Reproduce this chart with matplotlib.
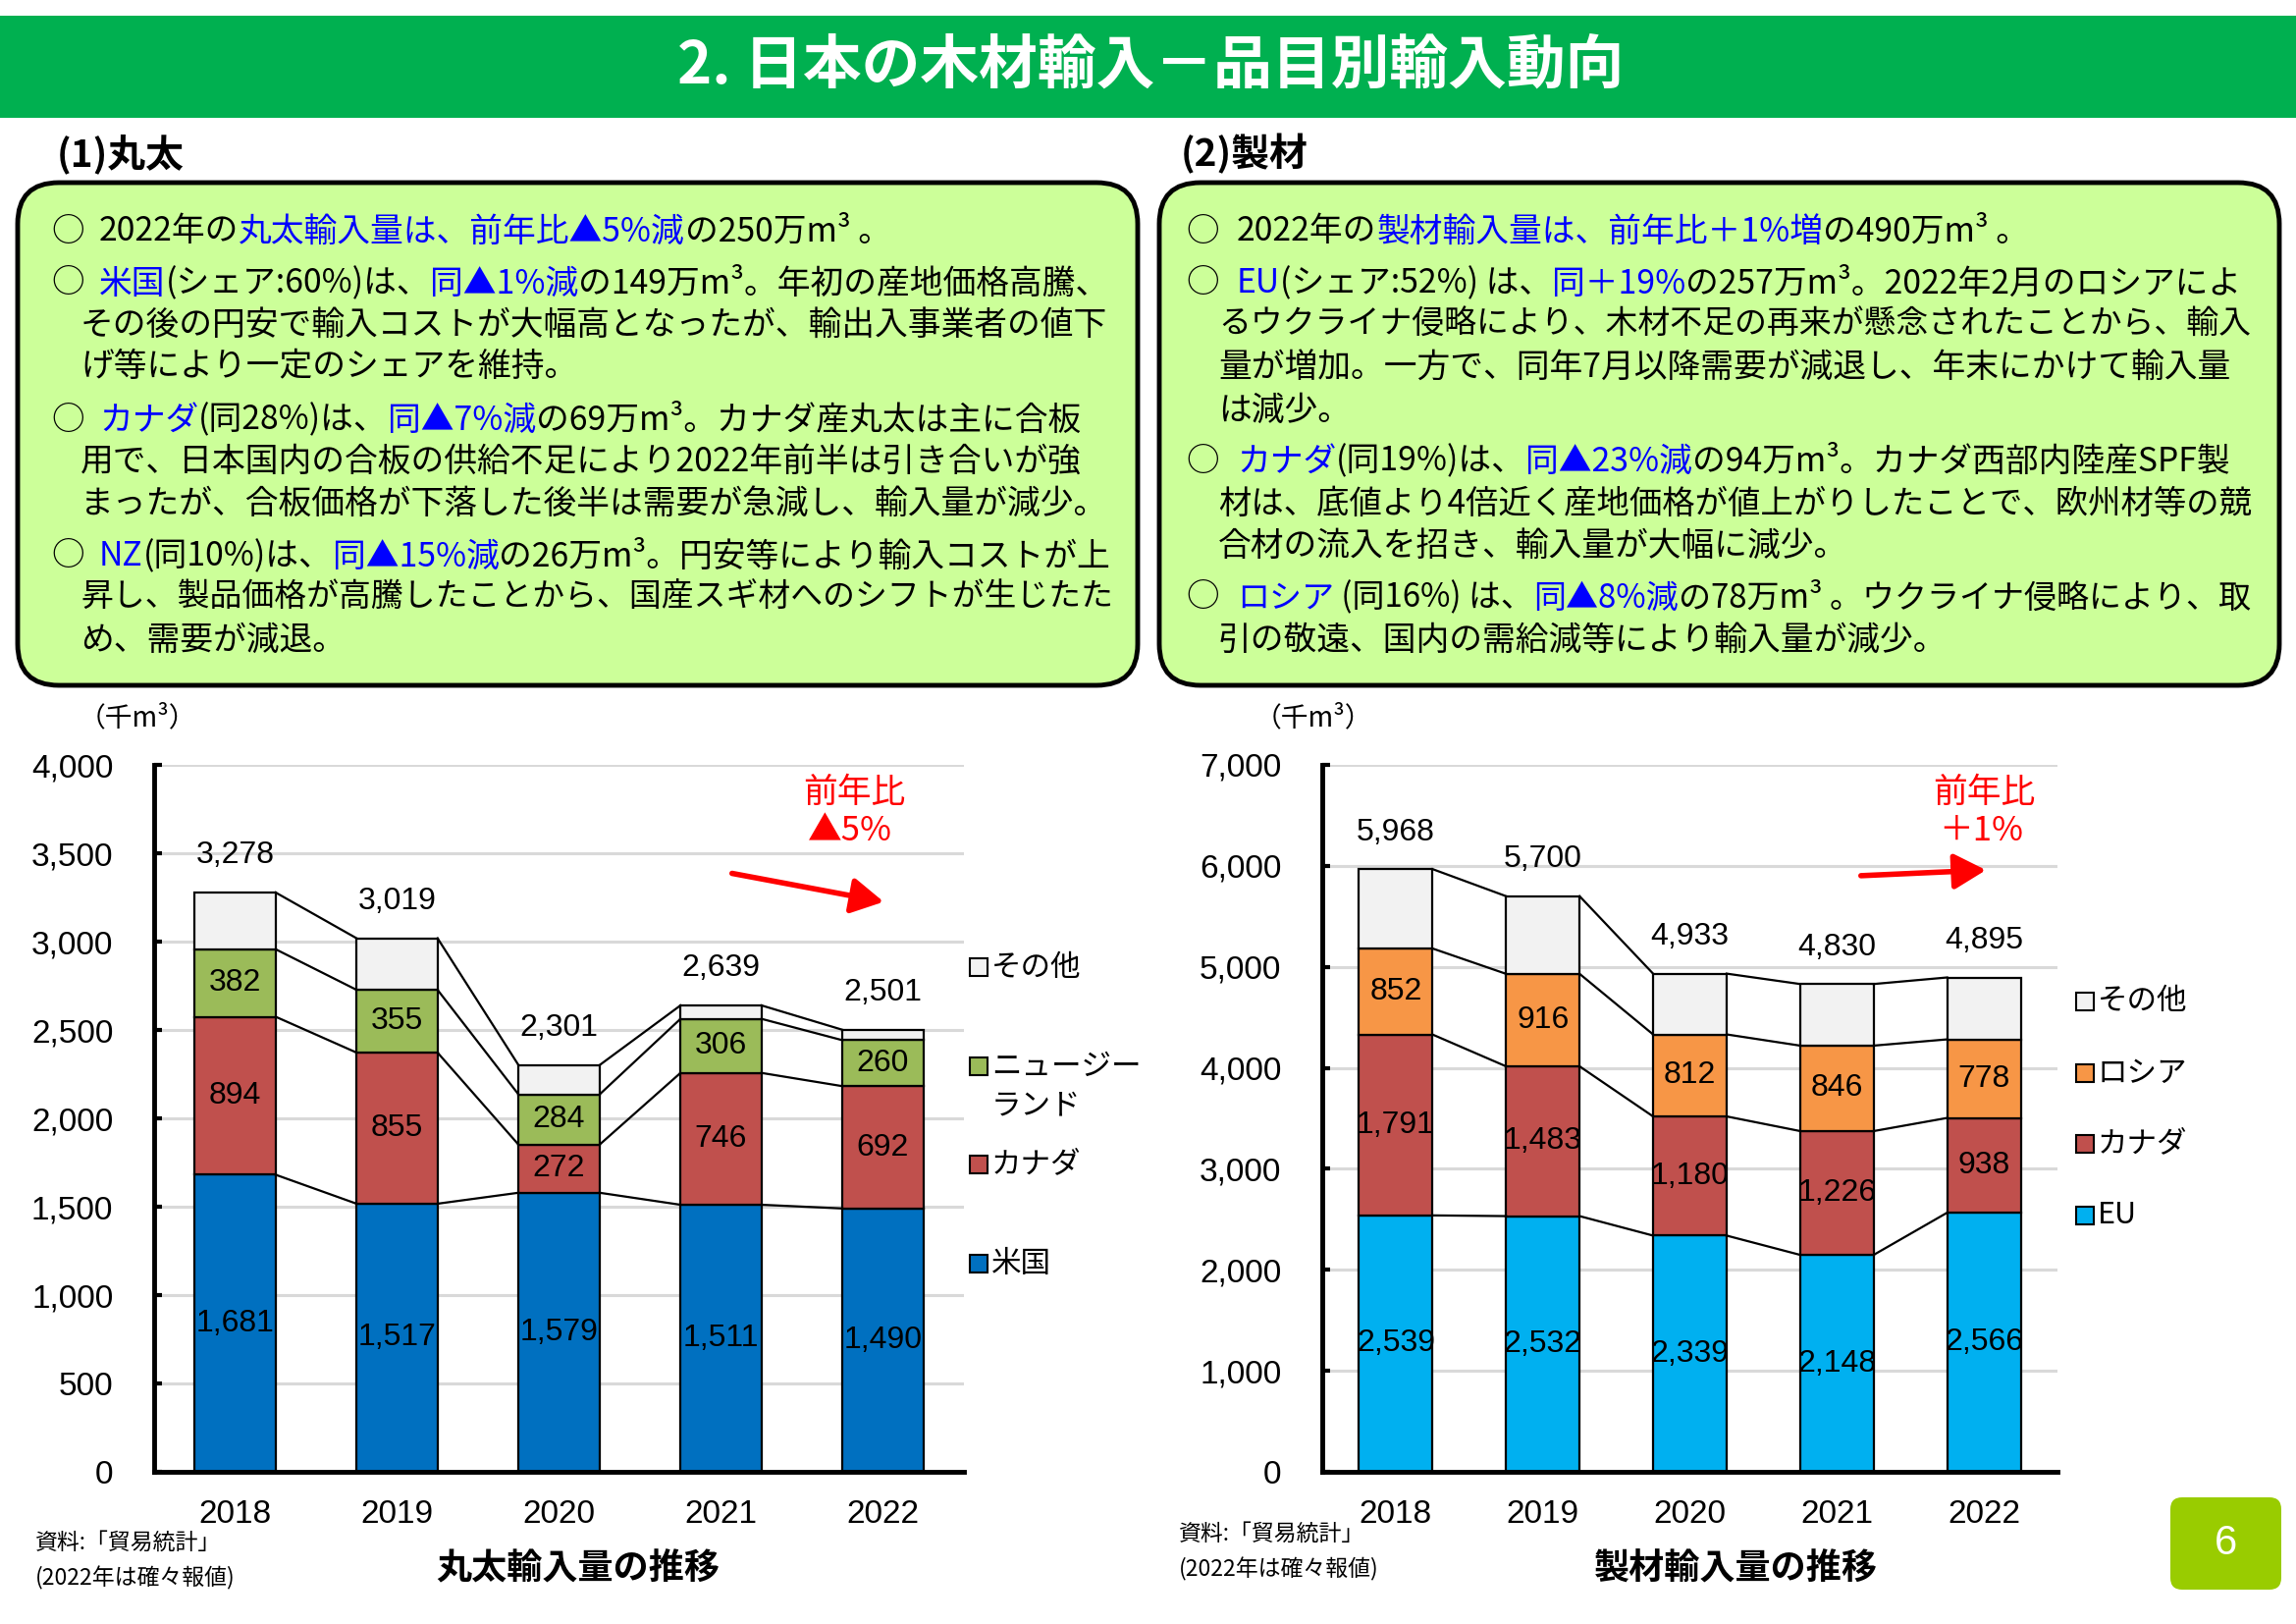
import numpy as np
import matplotlib
matplotlib.use('Agg')
import matplotlib.pyplot as plt
from matplotlib.patches import Rectangle, FancyBboxPatch, FancyArrowPatch
from matplotlib.transforms import IdentityTransform
import matplotlib.ticker as mticker

W, H = 2339, 1654
DPI = 100
CJK = ['Noto Sans CJK JP', 'DejaVu Sans']
NUM = ['Liberation Sans Narrow', 'Liberation Sans', 'DejaVu Sans']
plt.rcParams['font.family'] = CJK

# ---------------- data ----------------
years = ['2018', '2019', '2020', '2021', '2022']

# (1) logs (千m3)
log_us = [1681, 1517, 1579, 1511, 1490]
log_canada = [894, 855, 272, 746, 692]
log_nz = [382, 355, 284, 306, 260]
log_other = [321, 292, 166, 76, 59]
log_total = [3278, 3019, 2301, 2639, 2501]
log_names = ['米国', 'カナダ', 'ニュージーランド', 'その他']

# (2) lumber (千m3)
lum_eu = [2539, 2532, 2339, 2148, 2566]
lum_canada = [1791, 1483, 1180, 1226, 938]
lum_russia = [852, 916, 812, 846, 778]
lum_other = [786, 769, 602, 610, 613]
lum_total = [5968, 5700, 4933, 4830, 4895]
lum_names = ['EU', 'カナダ', 'ロシア', 'その他']

C_BLUE = '#0070C0'
C_RED = '#C0504D'
C_GREEN = '#9BBB59'
C_SKY = '#00B0F0'
C_ORANGE = '#F79646'
C_OTHER = '#F2F2F2'
TXT_BLUE = '#0000FF'

NUMSIZE = 23
BODY = 24.3

fig = plt.figure(figsize=(W / DPI, H / DPI), dpi=DPI)
fig.patch.set_facecolor('white')
IT = IdentityTransform()
renderer = fig.canvas.get_renderer()


def ftext(x, y, s, **kw):
    kw.setdefault('family', CJK)
    return fig.text(x, H - y, s, transform=IT, **kw)


def seg_line(x0, y, segs, xmax, size=BODY):
    arts = []
    x = x0
    for s, c in segs:
        t = ftext(x, y, s, color=c, fontsize=size, va='center', ha='left')
        x = t.get_window_extent(renderer).x1
        arts.append(t)
    if x > xmax:
        for a in arts:
            a.remove()
        size2 = size * (xmax - x0) / (x - x0)
        x = x0
        for s, c in segs:
            t = ftext(x, y, s, color=c, fontsize=size2, va='center', ha='left')
            x = t.get_window_extent(renderer).x1


# ---------------- header ----------------
fig.add_artist(Rectangle((0, H - 120), W, 104, transform=IT, fc='#00B050', ec='none'))
ftext(1172, 68, '2. 日本の木材輸入－品目別輸入動向', fontsize=43, fontweight='bold',
      color='white', ha='center', va='center')

ftext(58, 157, '(1)丸太', fontsize=28, fontweight='bold', ha='left', va='center')
ftext(1203, 157, '(2)製材', fontsize=28, fontweight='bold', ha='left', va='center')

# ---------------- text boxes ----------------
for bx in (18, 1181):
    fig.add_artist(FancyBboxPatch((bx, H - 698), 1141, 512,
                                  boxstyle='round,pad=0,rounding_size=42',
                                  transform=IT, fc='#CCFF99', ec='black', lw=3.5))

K, B = 'black', TXT_BLUE
left_lines = [
    (236, True, [('2022年の', K), ('丸太輸入量は、前年比▲5%減', B), ('の250万m³ 。', K)]),
    (289, True, [('米国', B), ('(シェア:60%)は、', K), ('同▲1%減', B), ('の149万m³。年初の産地価格高騰、', K)]),
    (331, False, [('その後の円安で輸入コストが大幅高となったが、輸出入事業者の値下', K)]),
    (373, False, [('げ等により一定のシェアを維持。', K)]),
    (428, True, [('カナダ', B), ('(同28%)は、', K), ('同▲7%減', B), ('の69万m³。カナダ産丸太は主に合板', K)]),
    (470, False, [('用で、日本国内の合板の供給不足により2022年前半は引き合いが強', K)]),
    (513, False, [('まったが、合板価格が下落した後半は需要が急減し、輸入量が減少。', K)]),
    (567, True, [('NZ', B), ('(同10%)は、', K), ('同▲15%減', B), ('の26万m³。円安等により輸入コストが上', K)]),
    (609, False, [('昇し、製品価格が高騰したことから、国産スギ材へのシフトが生じたた', K)]),
    (652, False, [('め、需要が減退。', K)]),
]
right_lines = [
    (236, True, [('2022年の', K), ('製材輸入量は、前年比＋1%増', B), ('の490万m³ 。', K)]),
    (289, True, [('EU', B), ('(シェア:52%) は、', K), ('同＋19%', B), ('の257万m³。2022年2月のロシアによ', K)]),
    (331, False, [('るウクライナ侵略により、木材不足の再来が懸念されたことから、輸入', K)]),
    (374, False, [('量が増加。一方で、同年7月以降需要が減退し、年末にかけて輸入量', K)]),
    (418, False, [('は減少。', K)]),
    (470, True, [('カナダ', B), ('(同19%)は、', K), ('同▲23%減', B), ('の94万m³。カナダ西部内陸産SPF製', K)]),
    (513, False, [('材は、底値より4倍近く産地価格が値上がりしたことで、欧州材等の競', K)]),
    (556, False, [('合材の流入を招き、輸入量が大幅に減少。', K)]),
    (609, True, [('ロシア', B), (' (同16%) は、', K), ('同▲8%減', B), ('の78万m³ 。ウクライナ侵略により、取', K)]),
    (652, False, [('引の敬遠、国内の需給減等により輸入量が減少。', K)]),
]

for lines, xo, xb, xc, xmax in ((left_lines, 52, 101, 82, 1132), (right_lines, 1208, 1260, 1241, 2294)):
    for y, bullet, segs in lines:
        if bullet:
            ftext(xo, y, '○', fontsize=BODY, va='center', ha='left')
            seg_line(xb, y, segs, xmax)
        else:
            seg_line(xc, y, segs, xmax)


# ---------------- charts ----------------
def draw_chart(px0, px1, stacks, colors, totals, ymax, ystep):
    top, bot = 779, 1499
    ax = fig.add_axes([px0 / W, (H - bot) / H, (px1 - px0) / W, (bot - top) / H])
    xs = np.arange(len(years))
    bottom = np.zeros(len(years))
    tops = []
    for k, (vals, col) in enumerate(zip(stacks, colors)):
        vals = np.array(vals, float)
        ax.bar(xs, vals, 0.5, bottom=bottom, color=col, edgecolor='black', linewidth=1.6, zorder=3)
        if k < len(stacks) - 1:
            for i in range(len(xs)):
                ax.text(xs[i], bottom[i] + vals[i] / 2, f'{int(vals[i]):,}', ha='center', va='center',
                        fontsize=NUMSIZE, family=NUM, zorder=5)
        bottom = bottom + vals
        tops.append(bottom.copy())
    for lev in tops:
        for i in range(len(xs) - 1):
            ax.plot([xs[i] + 0.25, xs[i + 1] - 0.25], [lev[i], lev[i + 1]], color='black', lw=1.6, zorder=4)
    for i, t in enumerate(totals):
        ax.annotate(f'{t:,}', (xs[i], t), xytext=(0, 27), textcoords='offset points',
                    ha='center', va='center', fontsize=NUMSIZE, family=NUM)
    ax.set_xlim(-0.5, len(years) - 0.5)
    ax.set_ylim(0, ymax)
    ax.set_yticks(np.arange(0, ymax + 1, ystep))
    ax.yaxis.set_major_formatter(mticker.FuncFormatter(lambda v, p: f'{int(v):,}'))
    ax.set_xticks(xs)
    ax.set_xticklabels(years)
    ax.set_axisbelow(True)
    ax.yaxis.grid(True, color='#D9D9D9', lw=2.2, zorder=0)
    for s in ('top', 'right'):
        ax.spines[s].set_visible(False)
    for s in ('left', 'bottom'):
        ax.spines[s].set_linewidth(3.5)
        ax.spines[s].set_zorder(6)
    ax.tick_params(axis='y', direction='in', length=6, width=3, pad=30)
    ax.tick_params(axis='x', length=0, pad=20)
    plt.setp(ax.get_yticklabels(), family=NUM, fontsize=24)
    plt.setp(ax.get_xticklabels(), family=NUM, fontsize=24)
    ax.set_facecolor('white')
    return ax


draw_chart(157, 982, [log_us, log_canada, log_nz, log_other],
           [C_BLUE, C_RED, C_GREEN, C_OTHER], log_total, 4000, 500)
draw_chart(1347, 2096, [lum_eu, lum_canada, lum_russia, lum_other],
           [C_SKY, C_RED, C_ORANGE, C_OTHER], lum_total, 7000, 1000)

# units
ftext(80, 731, '（千m³）', fontsize=20, ha='left', va='center')
ftext(1278, 731, '（千m³）', fontsize=20, ha='left', va='center')


# legends
def legend_item(x, y, col, label, extra=None):
    fig.add_artist(Rectangle((x, H - y - 9), 18, 18, transform=IT, fc=col, ec='black', lw=1.5))
    ftext(x + 22, y, label, fontsize=22, ha='left', va='center')
    if extra:
        ftext(x + 22, extra[0], extra[1], fontsize=22, ha='left', va='center')


legend_item(988, 985, C_OTHER, 'その他')
legend_item(988, 1086, C_GREEN, 'ニュージー', (1126, 'ランド'))
legend_item(988, 1186, C_RED, 'カナダ')
legend_item(988, 1287, C_BLUE, '米国')

legend_item(2115, 1020, C_OTHER, 'その他')
legend_item(2115, 1093, C_ORANGE, 'ロシア')
legend_item(2115, 1165, C_RED, 'カナダ')
legend_item(2115, 1238, C_SKY, 'EU')

# red annotations
ftext(870, 807, '前年比', fontsize=25, color='red', ha='center', va='center')
ftext(866, 847, '▲5%', fontsize=25, color='red', ha='center', va='center')
ftext(2021, 807, '前年比', fontsize=25, color='red', ha='center', va='center')
ftext(2018, 847, '＋1%', fontsize=25, color='red', ha='center', va='center')
for (xa, ya), (xb2, yb) in (((743, 889), (903, 919)), ((1893, 892), (2026, 886))):
    fig.add_artist(FancyArrowPatch((xa, H - ya), (xb2, H - yb), transform=IT,
                                   arrowstyle='-|>,head_length=0.9,head_width=0.5',
                                   mutation_scale=22, lw=4, color='#FF0000'))

# sources and titles
ftext(36, 1571, '資料:「貿易統計」', fontsize=16.5, ha='left', va='center')
ftext(36, 1607, '(2022年は確々報値)', fontsize=16.5, ha='left', va='center')
ftext(1201, 1562, '資料:「貿易統計」', fontsize=16.5, ha='left', va='center')
ftext(1201, 1598, '(2022年は確々報値)', fontsize=16.5, ha='left', va='center')
ftext(589, 1598, '丸太輸入量の推移', fontsize=26, fontweight='bold', ha='center', va='center')
ftext(1768, 1598, '製材輸入量の推移', fontsize=26, fontweight='bold', ha='center', va='center')

# page number
fig.add_artist(FancyBboxPatch((2211, H - 1619), 113, 94, boxstyle='round,pad=0,rounding_size=12',
                              transform=IT, fc='#99CC00', ec='none'))
ftext(2267, 1572, '6', fontsize=30, color='white', ha='center', va='center', family=['Liberation Sans', 'DejaVu Sans'])

fig.savefig('out.png', dpi=DPI)
